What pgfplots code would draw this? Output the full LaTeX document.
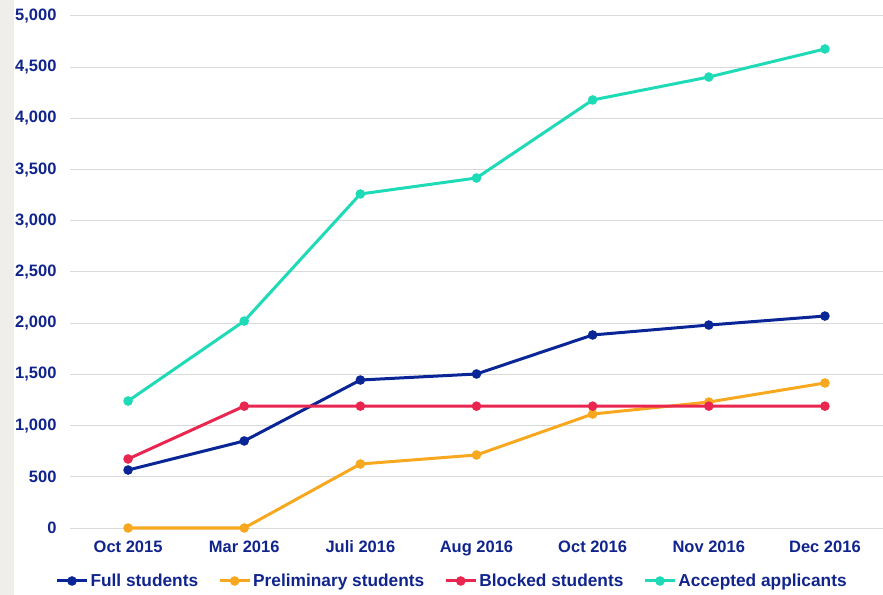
\documentclass[border=0pt]{standalone}
\usepackage{pgfplots}
\pgfplotsset{compat=1.18}
\usepackage{fontspec}
\setmainfont{Liberation Sans}
\definecolor{navy}{RGB}{16,36,140}
\definecolor{fullc}{RGB}{10,38,150}
\definecolor{prelc}{RGB}{247,168,30}
\definecolor{blockc}{RGB}{232,38,80}
\definecolor{accc}{RGB}{30,218,182}
\definecolor{gridc}{RGB}{217,217,217}
\definecolor{stripc}{RGB}{240,238,235}
\begin{document}
\begin{tikzpicture}
\useasboundingbox (0,0) rectangle (883bp,595bp);
\fill[stripc] (0,0) rectangle (14bp,595bp);
\begin{axis}[
  at={(70bp,67bp)}, anchor=south west,
  scale only axis, width=813bp, height=512bp,
  xmin=-0.5, xmax=6.5, ymin=0, ymax=5000,
  clip=false,
  axis line style={draw=none},
  tick style={draw=none},
  xtick={0,...,6},
  xticklabels={Oct 2015,Mar 2016,Juli 2016,Aug 2016,Oct 2016,Nov 2016,Dec 2016},
  ytick={0,500,...,5000},
  ymajorgrids, grid style={gridc, line width=1bp},
  /pgf/number format/assume math mode=true,
  /pgf/number format/1000 sep={,},
  scaled y ticks=false,
  ticklabel style={font=\fontsize{16.5bp}{18bp}\selectfont\bfseries, text=navy},
  yticklabel style={xshift=-10bp},
  xticklabel style={yshift=-9bp},
  every axis plot/.append style={line width=3bp, mark=*, mark size=3.2bp},
  legend columns=-1,
  legend style={draw=none, fill=none, at={(0.47,-0.1035)}, anchor=center,
    font=\fontsize{17.3bp}{19bp}\selectfont\bfseries, text=navy,
    /tikz/every even column/.append style={column sep=18bp},
    inner sep=0pt},
  legend image code/.code={
    \draw[#1, mark repeat=2, mark phase=2] plot coordinates {(0bp,0bp) (15bp,0bp) (30bp,0bp)};},
]
\addplot[fullc] coordinates {(0,566) (1,850) (2,1445) (3,1504) (4,1885) (5,1982) (6,2070)};
\addlegendentry{Full students}
\addplot[prelc] coordinates {(0,0) (1,0) (2,625) (3,713) (4,1113) (5,1230) (6,1416)};
\addlegendentry{Preliminary students}
\addplot[blockc] coordinates {(0,674) (1,1190) (2,1190) (3,1190) (4,1190) (5,1190) (6,1190)};
\addlegendentry{Blocked students}
\addplot[accc] coordinates {(0,1240) (1,2021) (2,3262) (3,3418) (4,4180) (5,4404) (6,4678)};
\addlegendentry{Accepted applicants}
\end{axis}
\end{tikzpicture}
\end{document}
